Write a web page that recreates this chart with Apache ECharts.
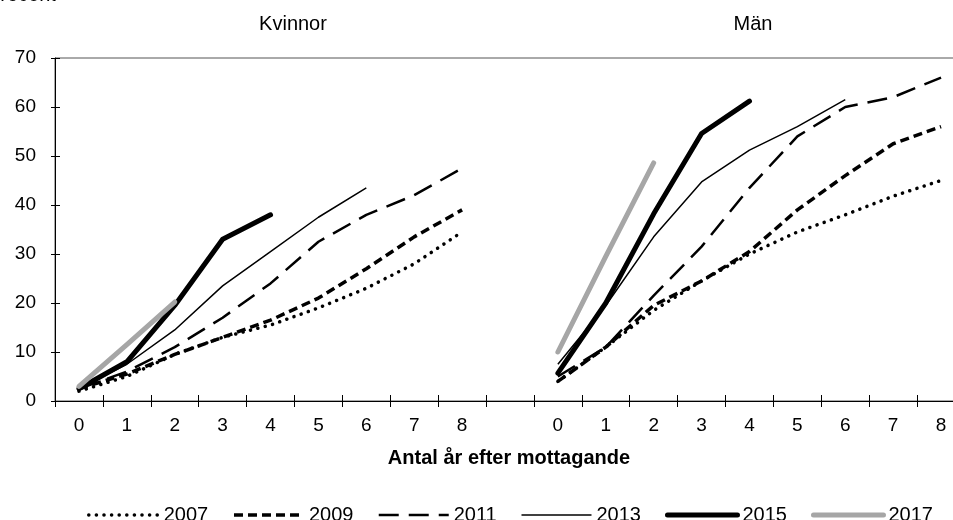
<!DOCTYPE html>
<html>
<head>
<meta charset="utf-8">
<script src="https://cdn.jsdelivr.net/npm/echarts@6/dist/echarts.min.js"></script>
<style>
  html, body { margin: 0; padding: 0; overflow: hidden; background: #fff; }
  /* plotten fortsätter lite utanför högerkanten, precis som i originalet */
  #chart { width: 965px; height: 520px; }
</style>
</head>
<body>
<div id="chart"></div>
<script>
// x-kategorier: år efter mottagande, Kvinnor, tom lucka, Män
const years = ['0', '1', '2', '3', '4', '5', '6', '7', '8']
const categories = years.concat([''], years)

const seriesNames = ['2007', '2009', '2011', '2013', '2015', '2017']

// Kvinnor (procent)
const kvinnor2007 = [2, 5, 9.5, 13, 15.5, 19, 23, 28, 34.5]
const kvinnor2009 = [2.5, 5.5, 9.5, 13, 16.5, 21, 27, 33.5, 39]
const kvinnor2011 = [2.5, 6, 11, 17, 24, 32.5, 38, 42, 47.5]
const kvinnor2013 = [2.5, 7.5, 14.5, 23.5, 30.5, 37.5, 43.5]
const kvinnor2015 = [2.5, 8, 19.5, 33, 38]
const kvinnor2017 = [3, 11.5, 20.2]

// Män (procent)
const man2007 = [4, 11, 18.5, 24.5, 30, 34.5, 38, 41.8, 45]
const man2009 = [4, 11, 19.5, 24.5, 30.5, 39, 46, 52.5, 56]
const man2011 = [5, 11, 21.5, 31.5, 43.5, 54, 60, 62, 66]
const man2013 = [7.5, 19.5, 33.5, 44.7, 51.2, 56, 61.5]
const man2015 = [5.7, 20, 38.2, 54.6, 61.2]
const man2017 = [10, 29.5, 48.6]

const yTicks = [0, 10, 20, 30, 40, 50, 60, 70]

// fyll ut till 9 punkter och lägg en lucka mellan panelerna
function pad(arr) {
  const out = arr.slice()
  while (out.length < years.length) out.push(null)
  return out
}
function join(k, m) {
  return pad(k).concat([null], pad(m))
}

const seriesData = [
  join(kvinnor2007, man2007),
  join(kvinnor2009, man2009),
  join(kvinnor2011, man2011),
  join(kvinnor2013, man2013),
  join(kvinnor2015, man2015),
  join(kvinnor2017, man2017)
]

const styles = [
  {color: '#000', width: 3.5, type: [0.1, 7.5], cap: 'round'},
  {color: '#000', width: 3.5, type: [9, 5], cap: 'butt'},
  {color: '#000', width: 2.5, type: [20, 10], cap: 'butt'},
  {color: '#000', width: 1.5, type: 'solid', cap: 'butt'},
  {color: '#000', width: 5, type: 'solid', cap: 'round'},
  {color: '#a6a6a6', width: 5, type: 'solid', cap: 'round'}
]

const font = 'Liberation Sans, Arial, sans-serif'

const myChart = echarts.init(document.getElementById('chart'))
const option = {
  animation: false,
  textStyle: {fontFamily: font, color: '#000'},
  grid: {
    left: 55, right: 0, top: 58, bottom: 119,
    show: true, borderColor: '#555', borderWidth: 1
  },
  legend: {
    left: 82,
    top: 500,
    itemWidth: 70,
    itemHeight: 20,
    itemGap: 24,
    textStyle: {fontSize: 20, color: '#000', fontFamily: font},
    data: seriesNames.map((name, i) => ({
      name: name,
      itemStyle: {opacity: 0},
      lineStyle: {
        color: styles[i].color,
        width: styles[i].width,
        type: styles[i].type,
        cap: styles[i].cap
      }
    }))
  },
  graphic: [
    {type: 'text', left: -13, top: -15, style: {text: 'Procent', font: '20px ' + font, fill: '#000'}},
    {type: 'text', x: 293, y: 24, style: {text: 'Kvinnor', font: '20px ' + font, fill: '#000', textAlign: 'center', textVerticalAlign: 'middle'}},
    {type: 'text', x: 753, y: 24, style: {text: 'Män', font: '20px ' + font, fill: '#000', textAlign: 'center', textVerticalAlign: 'middle'}},
    {type: 'text', x: 509, y: 458, style: {text: 'Antal år efter mottagande', font: 'bold 20px ' + font, fill: '#000', textAlign: 'center', textVerticalAlign: 'middle'}}
  ],
  xAxis: [
    {
      type: 'category',
      data: categories,
      position: 'bottom',
      axisLine: {lineStyle: {color: '#000', width: 1}},
      axisTick: {show: true, interval: 0, length: 6, lineStyle: {color: '#000'}},
      axisLabel: {interval: 0, margin: 15, fontSize: 19, color: '#000'}
    },
    {
      // inre halvan av korsande tickmarkeringar
      type: 'category',
      data: categories,
      position: 'bottom',
      axisLine: {show: false},
      axisTick: {show: true, inside: true, interval: 0, length: 6, lineStyle: {color: '#000'}},
      axisLabel: {show: false}
    }
  ],
  yAxis: [
    {
      type: 'value',
      min: yTicks[0],
      max: yTicks[yTicks.length - 1],
      interval: 10,
      axisLine: {show: true, lineStyle: {color: '#000', width: 1}},
      axisTick: {show: true, length: 4, lineStyle: {color: '#000'}},
      axisLabel: {margin: 19, fontSize: 19, color: '#000'},
      splitLine: {show: false}
    },
    {
      type: 'value',
      position: 'left',
      min: yTicks[0],
      max: yTicks[yTicks.length - 1],
      interval: 10,
      axisLine: {show: false},
      axisTick: {show: true, inside: true, length: 5, lineStyle: {color: '#000'}},
      axisLabel: {show: false},
      splitLine: {show: false}
    }
  ],
  series: seriesNames.map((name, i) => ({
    name: name,
    type: 'line',
    data: seriesData[i],
    symbol: 'none',
    connectNulls: false,
    color: styles[i].color,
    lineStyle: {
      color: styles[i].color,
      width: styles[i].width,
      type: styles[i].type,
      cap: styles[i].cap,
      join: 'round'
    }
  }))
}
myChart.setOption(option)
</script>
</body>
</html>
